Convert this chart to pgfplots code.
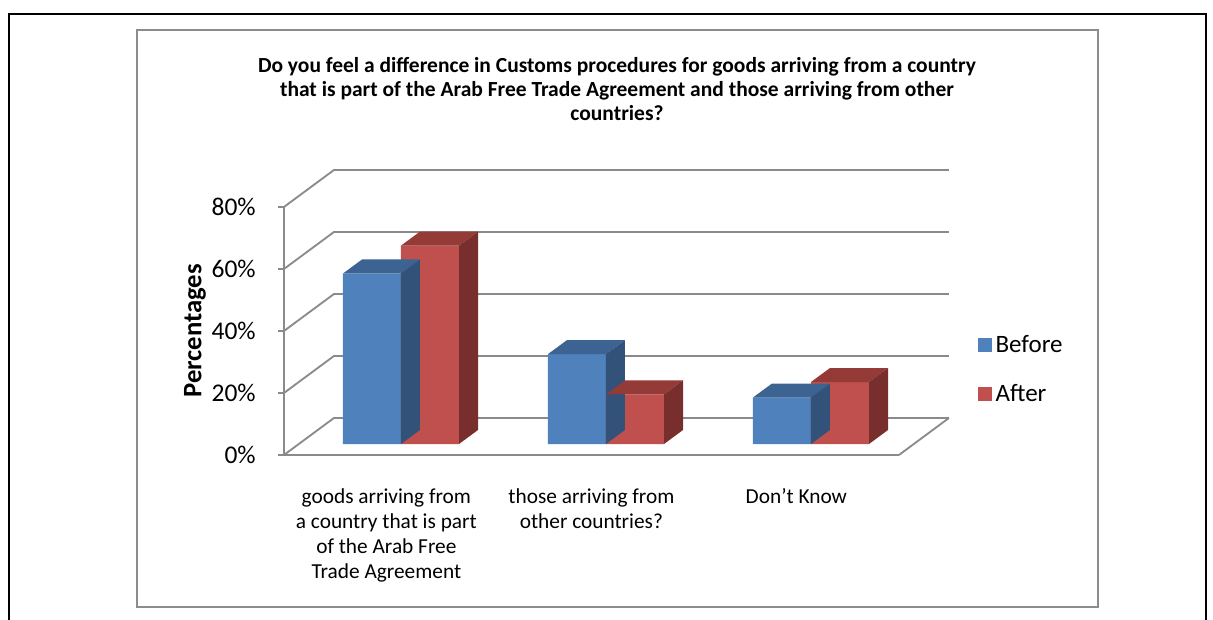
\documentclass[border=0pt]{standalone}
\usepackage{fontspec}
\setmainfont{Carlito}
\usepackage{pgfplots}
\usepackage{pgfplotstable}
\pgfplotsset{compat=1.18}

\definecolor{blueF}{HTML}{4F81BD}
\definecolor{blueT}{HTML}{3D6392}
\definecolor{blueS}{HTML}{32527A}
\definecolor{redF}{HTML}{C0504D}
\definecolor{redT}{HTML}{943A37}
\definecolor{redS}{HTML}{782E2C}
\definecolor{gridgray}{HTML}{8A8A8A}
\definecolor{boxgray}{HTML}{8C8C8C}

% 3D top and side faces of a bar (1px = 0.6pt; half width 29px, depth 19px x 14px)
\pgfdeclareplotmark{cubeB}{%
  \pgfmathsetlengthmacro{\hh}{\val*1.86}%
  \pgfsetfillcolor{blueT}%
  \pgfpathmoveto{\pgfqpoint{-17.4pt}{0pt}}%
  \pgfpathlineto{\pgfqpoint{17.4pt}{0pt}}%
  \pgfpathlineto{\pgfqpoint{28.8pt}{8.4pt}}%
  \pgfpathlineto{\pgfqpoint{-6pt}{8.4pt}}%
  \pgfpathclose\pgfusepath{fill}%
  \pgfsetfillcolor{blueS}%
  \pgfpathmoveto{\pgfqpoint{17.4pt}{0pt}}%
  \pgfpathlineto{\pgfqpoint{28.8pt}{8.4pt}}%
  \pgfpathlineto{\pgfpoint{28.8pt}{8.4pt-\hh}}%
  \pgfpathlineto{\pgfpoint{17.4pt}{-\hh}}%
  \pgfpathclose\pgfusepath{fill}%
}
\pgfdeclareplotmark{cubeR}{%
  \pgfmathsetlengthmacro{\hh}{\val*1.86}%
  \pgfsetfillcolor{redT}%
  \pgfpathmoveto{\pgfqpoint{-17.4pt}{0pt}}%
  \pgfpathlineto{\pgfqpoint{17.4pt}{0pt}}%
  \pgfpathlineto{\pgfqpoint{28.8pt}{8.4pt}}%
  \pgfpathlineto{\pgfqpoint{-6pt}{8.4pt}}%
  \pgfpathclose\pgfusepath{fill}%
  \pgfsetfillcolor{redS}%
  \pgfpathmoveto{\pgfqpoint{17.4pt}{0pt}}%
  \pgfpathlineto{\pgfqpoint{28.8pt}{8.4pt}}%
  \pgfpathlineto{\pgfpoint{28.8pt}{8.4pt-\hh}}%
  \pgfpathlineto{\pgfpoint{17.4pt}{-\hh}}%
  \pgfpathclose\pgfusepath{fill}%
}

\pgfplotstableread{
x before after
0 55 64
1 29 16
2 15 20
}\datatable

\begin{document}
\begin{tikzpicture}
\begin{axis}[
  x=123pt, y=1.86pt,
  xmin=-0.571, xmax=2.429, ymin=-3.55, ymax=76.45,
  axis x line*=bottom, axis y line*=left,
  axis line style={draw=gridgray, line width=1.1pt},
  clip=false,
  xtick={-0.0714,0.9286,1.9286},
  xticklabels={{goods arriving from\\a country that is part\\of the Arab Free\\Trade Agreement},{those arriving from\\other countries?},{Don’t Know}},
  xtick style={draw=none},
  xticklabel style={align=center, font=\fontsize{12.8}{15}\selectfont, anchor=north, yshift=-13pt},
  ytick={-3.55,16.45,36.45,56.45,76.45},
  yticklabels={0\%,20\%,40\%,60\%,80\%},
  ytick style={draw=gridgray, line width=1.1pt},
  yticklabel style={font=\fontsize{15.3}{18}\selectfont, xshift=-9.8pt},
  tick align=outside,
  major tick length=3.6pt,
  every axis y label/.style={at={(axis description cs:-0.1447,0.5)}, rotate=90, anchor=center},
  ylabel={Percentages},
  ylabel style={font=\bfseries\fontsize{16}{19}\selectfont},
  legend style={at={(1.1285,0.3448)}, anchor=west, draw=none, fill=none, inner sep=0pt, row sep=13.6pt, font=\fontsize{15}{18}\selectfont},
  legend cell align=left,
]
\coordinate (O) at (axis cs:0,0);
\pgfplotsinvokeforeach{0,1,2,3,4}{
  \draw[gridgray, line width=1.1pt, line join=round] (-0.571,{-3.55+20*#1}) -- (-0.327,{8.39+20*#1}) -- (2.673,{8.39+20*#1});
}
\draw[gridgray, line width=1.1pt, line join=round] (2.429,-3.55) -- (2.673,8.39);

\addplot[ybar, bar width=0.283, bar shift=-0.1415, fill=blueF, draw=none,
  legend image code/.code={\fill[blueF] (0pt,-4.2pt) rectangle (8.4pt,4.2pt);}]
  table[x=x, y=before] {\datatable};
\addlegendentry{Before}
\addplot[only marks, mark=cubeB, forget plot, visualization depends on={\thisrow{before}\as\val}]
  table[x expr=\thisrow{x}-0.1415, y=before] {\datatable};
\addplot[ybar, bar width=0.283, bar shift=0.1415, fill=redF, draw=none,
  legend image code/.code={\fill[redF] (0pt,-4.2pt) rectangle (8.4pt,4.2pt);}]
  table[x=x, y=after] {\datatable};
\addlegendentry{After}
\addplot[only marks, mark=cubeR, forget plot, visualization depends on={\thisrow{after}\as\val}]
  table[x expr=\thisrow{x}+0.1415, y=after] {\datatable};
\end{axis}
\begin{scope}[shift={(O)}, xshift=-240.6pt, yshift=266.4pt, x=0.6pt, y=-0.6pt]
  \draw[black, line width=1.6pt] (9,640) -- (9,14) -- (1206,14) -- (1206,640);
  \draw[boxgray, line width=1.5pt] (137,30) rectangle (1098,607);
  \node[align=center, font=\bfseries\fontsize{12.9}{14.4}\selectfont] at (617,89)
    {Do you feel a difference in Customs procedures for goods arriving from a country\\that is part of the Arab Free Trade Agreement and those arriving from other\\countries?};
  \pgfresetboundingbox
  \useasboundingbox (0,0) rectangle (1213,619);
\end{scope}
\end{tikzpicture}
\end{document}
